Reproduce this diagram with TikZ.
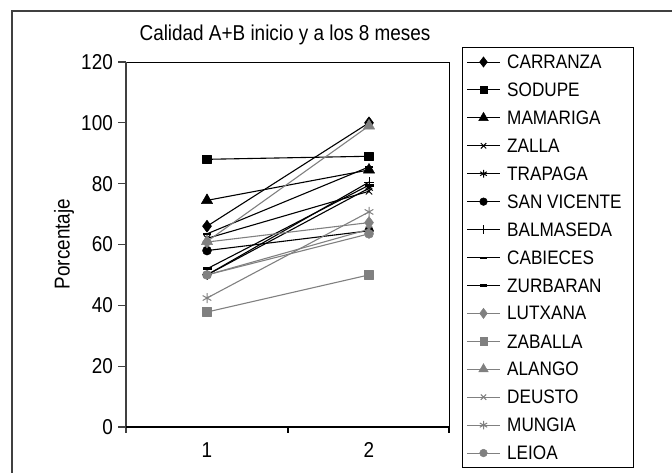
\documentclass[tikz,border=0pt]{standalone}
\usepackage{fontspec}
\setmainfont{Liberation Sans}[FakeStretch=0.88]
\usetikzlibrary{plotmarks}
\definecolor{grisA}{RGB}{128,128,128}
\definecolor{marco}{RGB}{64,64,64}
\tikzstyle{eje} = [line width=1.3pt, marco]
\tikzstyle{serie} = [line width=1.1pt, line join=round]
\tikzstyle{rotulo} = [font=\fontsize{21.5}{24}\selectfont, inner sep=0pt]
\tikzstyle{leyenda} = [font=\fontsize{19.5}{22}\selectfont, inner sep=0pt]
\begin{document}
\begin{tikzpicture}[x=1pt,y=-1pt]
  \useasboundingbox (0,0) rectangle (672,472);
  \clip (0,0) rectangle (672,472);
  % outer frame (cut by the page)
  \draw[eje] (12,490) -- (12,11) -- (690,11);
  % plot area
  \draw[line width=1pt] (126,62) -- (449,62) -- (449,433);
  \draw[eje] (126,62) -- (126,433);
  \draw[line width=1.2pt] (126,427) -- (449,427);
  \foreach \x in {288,449}
    \draw[line width=1.2pt] (\x,427) -- (\x,433);
  \foreach \v in {0,20,...,120} {
    \pgfmathsetmacro\py{427-3.042*\v}
    \draw[eje] (118,\py) -- (126,\py);
    \node[rotulo, anchor=east] (ty\v) at (113,\py) {\v};
  }
  \node[rotulo] (tx1) at (207,450) {1};
  \node[rotulo] (tx2) at (369,450) {2};
  \node[rotulo] (titulo) at (285,35) {Calidad A+B inicio y a los 8 meses};
  \node[rotulo, rotate=90] (ejey) at (64,244) {Porcentaje};
  % legend
  \draw[line width=1pt] (462,47) rectangle (633,467);
  % series: name/colour/mark/size/mark width/start/end
  \foreach \nm/\col/\mk/\ms/\mw/\a/\b [count=\i] in {
      CARRANZA/black/diamond*/6/0.5/66/100,
      SODUPE/black/square*/4.3/0.5/88/89,
      MAMARIGA/black/triangle*/6.5/0.5/74.5/84.5,
      ZALLA/black/x/4.5/1/62/77.5,
      TRAPAGA/black/asterisk/4.5/1/50/78.5,
      SAN VICENTE/black/*/4.5/0.5/58/64.5,
      BALMASEDA/black/+/5/1/50/80.5,
      CABIECES/black/-/4/2/63.5/85.5,
      ZURBARAN/black/-/4.5/3/52/79.5,
      LUTXANA/grisA/diamond*/6/0.5/60.8/67.2,
      ZABALLA/grisA/square*/4.3/0.5/37.8/50,
      ALANGO/grisA/triangle*/6.5/0.5/61/99,
      DEUSTO/grisA/x/4.5/1/50/65,
      MUNGIA/grisA/asterisk/5/1/42.4/70.7,
      LEIOA/grisA/*/4.5/0.5/50/63.5} {
    \pgfmathsetmacro\ya{427-3.042*\a}
    \pgfmathsetmacro\yb{427-3.042*\b}
    \pgfmathsetmacro\yl{62+27.93*(\i-1)}
    \pgfmathsetmacro\lm{0.85*\ms}
    \draw[serie, color=\col] plot[mark=\mk, mark size=\ms pt,
      mark options={solid, fill=\col, draw=\col, line width=\mw pt}]
      coordinates {(207,\ya) (369,\yb)};
    \draw[line width=1pt, color=\col] (467,\yl) -- (500,\yl);
    \path plot[mark=\mk, mark size=\lm pt,
      mark options={solid, fill=\col, draw=\col, line width=\mw pt}]
      coordinates {(483.5,\yl)};
    \node[leyenda, anchor=west] (ley\i) at (507,\yl) {\nm};
  }
\end{tikzpicture}
\end{document}
